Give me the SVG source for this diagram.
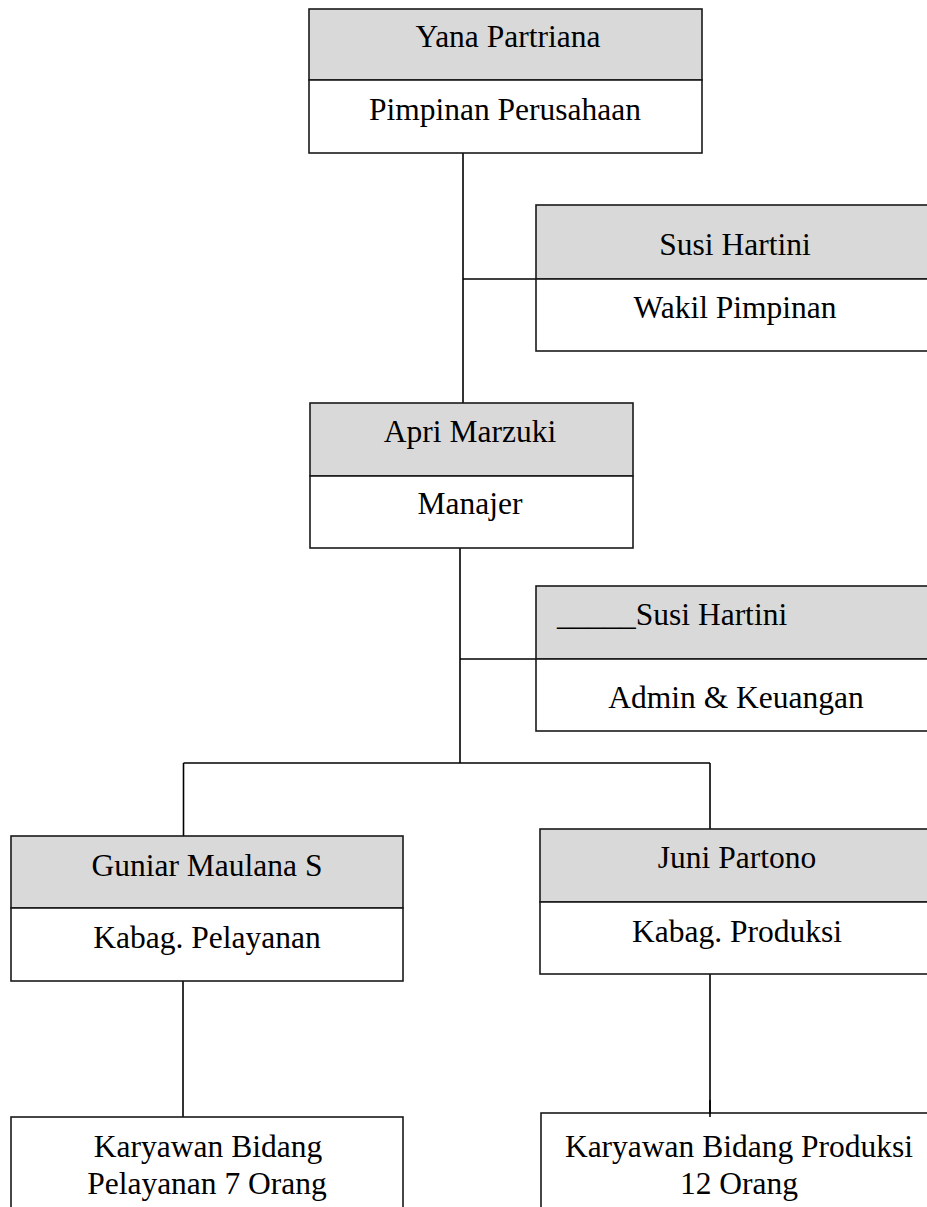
<svg xmlns="http://www.w3.org/2000/svg" width="927" height="1207" viewBox="0 0 927 1207">
<style>
.hd{fill:#d9d9d9;stroke:#1a1a1a;stroke-width:1.6}
.bd{fill:#ffffff;stroke:#1a1a1a;stroke-width:1.6}
.ln{fill:none;stroke:#000;stroke-width:1.6}
text{font-family:"Liberation Serif","Times New Roman",serif;font-size:31.5px;fill:#000;text-anchor:middle}
</style>
<rect width="927" height="1207" fill="#fff"/>
<g id="connectors">
<line class="ln" x1="463" y1="153" x2="463" y2="403"/>
<line class="ln" x1="463" y1="279" x2="536" y2="279"/>
<line class="ln" x1="460" y1="548" x2="460" y2="763"/>
<line class="ln" x1="460" y1="659" x2="536" y2="659"/>
<line class="ln" x1="183.5" y1="763" x2="710" y2="763"/>
<line class="ln" x1="183.5" y1="763" x2="183.5" y2="836"/>
<line class="ln" x1="710" y1="763" x2="710" y2="829"/>
<line class="ln" x1="183" y1="981" x2="183" y2="1117"/>
<line class="ln" x1="710" y1="974" x2="710" y2="1117"/>
</g>
<g id="yana">
<rect class="hd" x="309" y="9" width="393" height="71"/>
<rect class="bd" x="309" y="80" width="393" height="73"/>
<text x="508" y="47">Yana Partriana</text>
<text x="505" y="120">Pimpinan Perusahaan</text>
</g>
<g id="susi1">
<rect class="hd" x="536" y="205" width="400" height="74"/>
<rect class="bd" x="536" y="279" width="400" height="72"/>
<text x="735" y="255">Susi Hartini</text>
<text x="735" y="318">Wakil Pimpinan</text>
</g>
<g id="apri">
<rect class="hd" x="310" y="403" width="323" height="73"/>
<rect class="bd" x="310" y="476" width="323" height="72"/>
<text x="470" y="442">Apri Marzuki</text>
<text x="470" y="514">Manajer</text>
</g>
<g id="susi2">
<rect class="hd" x="536" y="586" width="400" height="73"/>
<rect class="bd" x="536" y="659" width="400" height="72"/>
<text x="557" y="625" style="text-anchor:start">_____Susi Hartini</text>
<text x="736" y="708">Admin &amp; Keuangan</text>
</g>
<g id="guniar">
<rect class="hd" x="11" y="836" width="392" height="72"/>
<rect class="bd" x="11" y="908" width="392" height="73"/>
<text x="207" y="876">Guniar Maulana S</text>
<text x="207" y="948">Kabag. Pelayanan</text>
</g>
<g id="juni">
<rect class="hd" x="540" y="829" width="400" height="73"/>
<rect class="bd" x="540" y="902" width="400" height="72"/>
<text x="737" y="868">Juni Partono</text>
<text x="737" y="942">Kabag. Produksi</text>
</g>
<g id="karyawan-pelayanan">
<rect class="bd" x="11" y="1117" width="392" height="100"/>
<text x="208" y="1157">Karyawan Bidang</text>
<text x="207" y="1194">Pelayanan 7 Orang</text>
</g>
<g id="karyawan-produksi">
<rect class="bd" x="541" y="1113" width="400" height="104"/>
<text x="739" y="1157">Karyawan Bidang Produksi</text>
<text x="739" y="1194">12 Orang</text>
</g>
<line class="ln" x1="710" y1="1100" x2="710" y2="1117"/>
</svg>
